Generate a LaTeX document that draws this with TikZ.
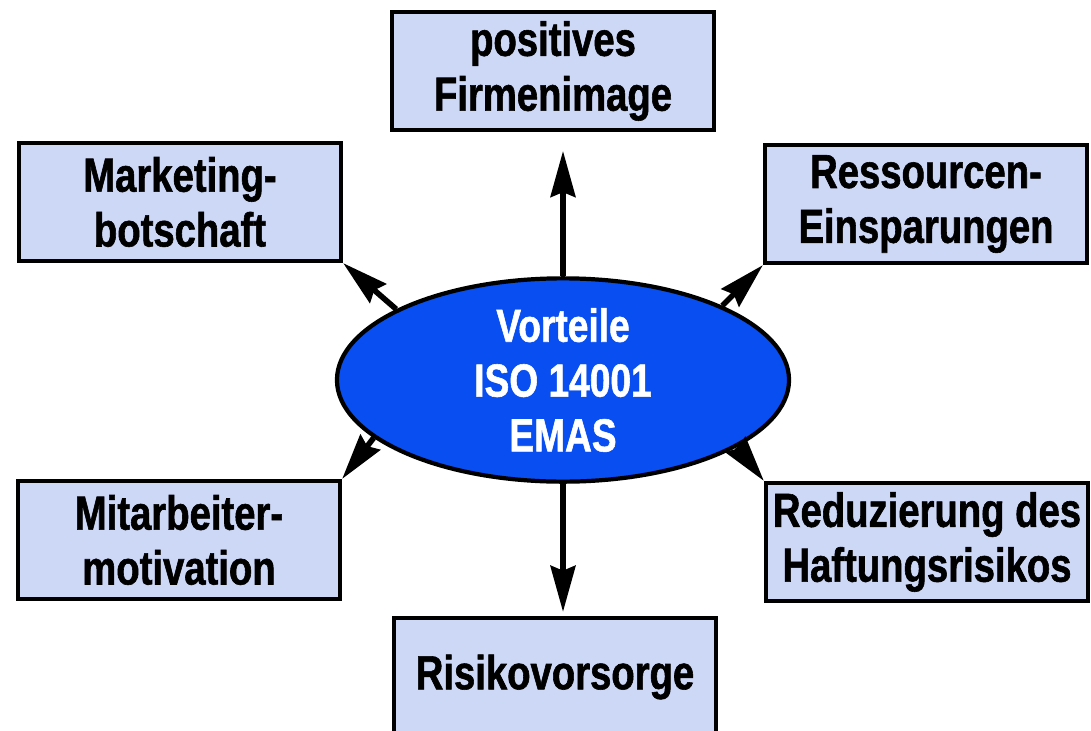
\documentclass[tikz,border=0pt]{standalone}
\usepackage{fontspec}
\newfontfamily\boxfont{Liberation Sans}[FakeStretch=0.8,BoldFeatures={FakeBold=1.2}]
\usetikzlibrary{arrows.meta,shapes.geometric}
\definecolor{bluei}{RGB}{8,78,240}
\definecolor{blueii}{RGB}{205,215,246}
\tikzset{
      mybox/.style={
        draw=black,
        fill=#1,
        line width=3pt,
        align=center,
        font=\boxfont\bfseries\fontsize{34}{39}\selectfont,
        minimum width=8.05cm,
        minimum height=2.95cm,
        inner sep=0pt
      },
      myell/.style={
        ellipse,
        draw=black,
        fill=#1,
        line width=3pt,
        align=center,
        text=white,
        font=\boxfont\bfseries\fontsize{33}{39}\selectfont,
        minimum width=11.3cm,
        minimum height=4.78cm,
        inner sep=0pt
      },
      myarrow/.style={
        line width=4pt,
        -{Stealth[length=1.15cm,width=0.62cm,inset=0.12cm]}
      },
    }
\begin{document}
\begin{tikzpicture}[x=0.025cm,y=-0.025cm]
          \useasboundingbox[fill=white] (0,0) rectangle (1091,730);

          \node[myell=bluei] at (563,380)
            (ell)
            {Vorteile\\ISO 14001\\EMAS};

          \node[mybox=blueii] at (553,71)
            (image)
            {positives\\Firmenimage};
          \node[mybox=blueii] at (180,202)
            (marketing)
            {Marketing-\\botschaft};
          \node[mybox=blueii] at (926,204)
            (ressourcen)
            {Ressourcen-\\Einsparungen};
          \node[mybox=blueii] at (179,540)
            (motivation)
            {Mitarbeiter-\\motivation};
          \node[mybox=blueii] at (927,542)
            (haftung)
            {Reduzierung des\\Haftungsrisikos};
          \node[mybox=blueii] at (555,677)
            (risiko)
            {Risikovorsorge};

          \draw[myarrow,shorten >=0.47cm] (ell.north) -- (ell.north |- image.south);
          \draw[myarrow,shorten >=0.1cm] (ell.south) -- (ell.south |- risiko.north);
          \draw[myarrow] (ell.157) -- (marketing.south east);
          \draw[myarrow] (ell.25) -- (ressourcen.south west);
          \draw[myarrow] (ell.197) -- (motivation.north east);
          \draw[myarrow] (ell.-21) -- (haftung.north west);
        \end{tikzpicture}
\end{document}
